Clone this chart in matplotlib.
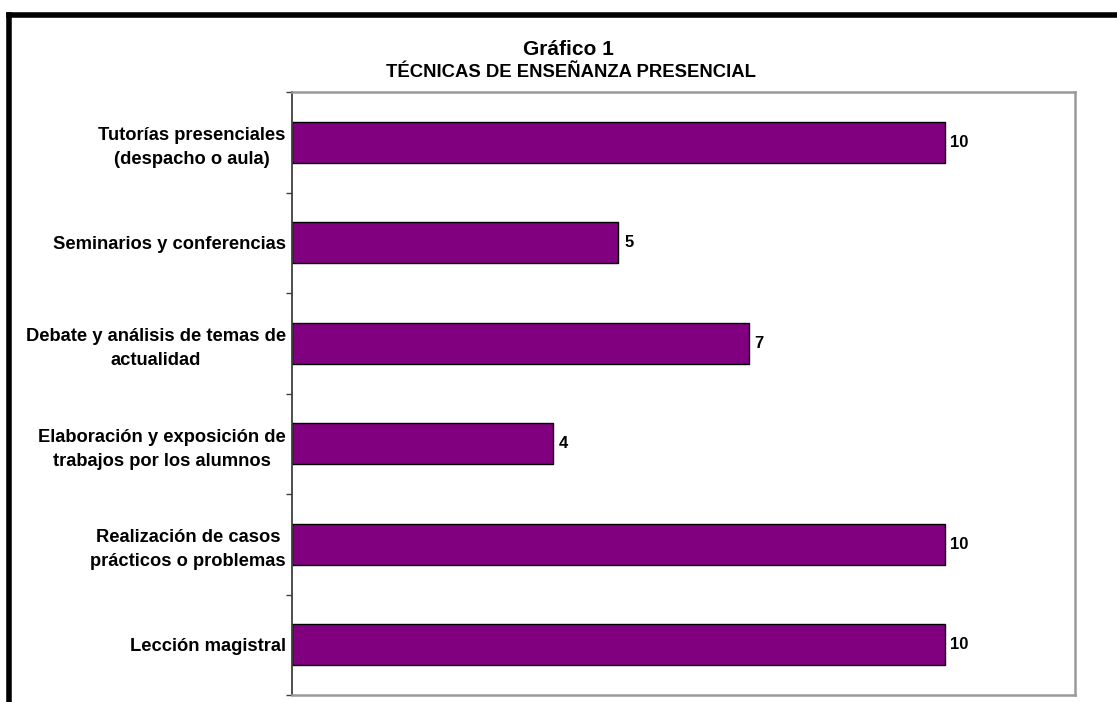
import numpy as np
import matplotlib.pyplot as plt
from matplotlib.lines import Line2D

plt.rcParams['font.family'] = ['Liberation Sans', 'DejaVu Sans']

categorias = [
    'Tutorías presenciales\n(despacho o aula)',
    'Seminarios y conferencias',
    'Debate y análisis de temas de\nactualidad',
    'Elaboración y exposición de\ntrabajos por los alumnos',
    'Realización de casos\nprácticos o problemas',
    'Lección magistral',
]
valores = [10, 5, 7, 4, 10, 10]

fig = plt.figure(figsize=(11.17, 7.02), dpi=100)
ax = fig.add_axes([292 / 1117, 1 - 695 / 702, (1075 - 292) / 1117, (695 - 92) / 702])

y = np.arange(len(categorias))
ax.barh(y, valores, height=0.41, color='#800080', edgecolor='black', linewidth=1)
for yi, v in zip(y, valores):
    ax.text(v + 0.09, yi, str(v), va='center', ha='left', fontsize=12, fontweight='bold')

ax.set_xlim(0, 12)
ax.set_ylim(len(categorias) - 0.5, -0.5)
ax.set_xticks([])

# etiquetas en el centro, ticks en los bordes de cada categoria
ax.set_yticks(np.arange(-0.5, len(categorias)), minor=False)
ax.set_yticklabels([])
ax.set_yticks(y, minor=True)
ax.set_yticklabels(categorias, minor=True, fontsize=13.2, fontweight='bold',
                   multialignment='center', linespacing=1.55)
ax.tick_params(axis='y', which='minor', length=0, pad=4.5)
ax.tick_params(axis='y', which='major', length=4, width=1, color='#404040')

for s in ['top', 'right', 'bottom']:
    ax.spines[s].set_color('#999999')
    ax.spines[s].set_linewidth(1.8)
ax.spines['left'].set_color('#404040')
ax.spines['left'].set_linewidth(1.3)

fig.text(568 / 1117, 1 - 55 / 702, 'Gráfico 1', ha='center', va='baseline', fontsize=15, fontweight='bold')
fig.text(571 / 1117, 1 - 77 / 702, 'TÉCNICAS DE ENSEÑANZA PRESENCIAL', ha='center', va='baseline',
         fontsize=13.3, fontweight='bold')

# marco exterior del grafico
fig.add_artist(Line2D([9 / 1117, 1.01], [1 - 15 / 702, 1 - 15 / 702], color='black', lw=4,
                      transform=fig.transFigure, solid_capstyle='projecting'))
fig.add_artist(Line2D([9 / 1117, 9 / 1117], [1 - 15 / 702, -0.01], color='black', lw=4,
                      transform=fig.transFigure, solid_capstyle='projecting'))

fig.savefig('out.png', dpi=100)
